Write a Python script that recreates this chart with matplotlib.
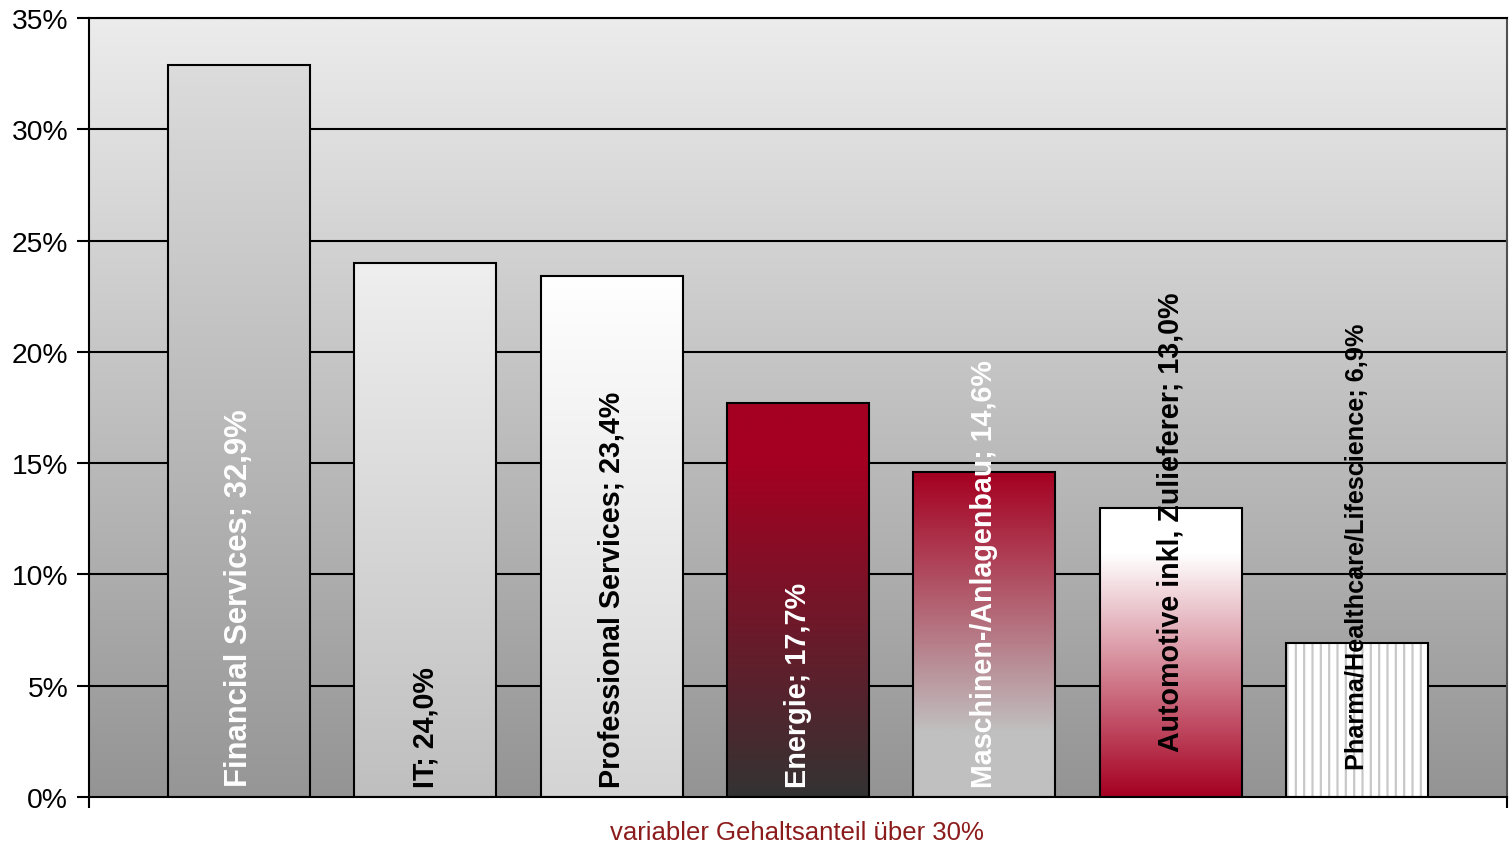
import matplotlib.pyplot as plt
import numpy as np
from matplotlib.colors import to_rgb
from matplotlib.ticker import FuncFormatter

plt.rcParams['font.family'] = ['Liberation Sans', 'DejaVu Sans']
plt.rcParams['hatch.linewidth'] = 1.6

# --- Data ---
category = 'variabler Gehaltsanteil über 30%'
branches = ['Financial Services', 'IT', 'Professional Services', 'Energie',
            'Maschinen-/Anlagenbau', 'Automotive inkl. Zulieferer',
            'Pharma/Healthcare/Lifescience']
shares = [32.9, 24.0, 23.4, 17.7, 14.6, 13.0, 6.9]
y_ticks = [0, 5, 10, 15, 20, 25, 30, 35]

# --- Styles: (top colour, bottom colour, ramp start, ramp end) ---
RED = '#a50021'
BAR_FILLS = [
    ('#dcdcdc', '#969696', 0.0, 1.0),
    ('#efefef', '#bfbfbf', 0.0, 1.0),
    ('#ffffff', '#d4d4d4', 0.0, 1.0),
    (RED, '#333333', 0.15, 1.0),
    (RED, '#c0c0c0', 0.0, 0.8),
    ('#ffffff', RED, 0.16, 1.0),
    None,  # striped
]
LABEL_COLORS = ['white', 'black', 'black', 'white', 'white', 'black', 'black']
LABEL_SIZES = [22.3, 20.6, 20.6, 20.8, 20.6, 20.6, 18.2]
LABEL_BASE = [0.5, 0.45, 0.45, 0.45, 0.45, 2.07, 1.26]  # % above the axis
BG_TOP, BG_BOTTOM = '#ececec', '#949494'


def ramp(top, bottom, a, b, n=256):
    t = np.linspace(0, 1, n)
    f = np.clip((t - a) / (b - a), 0, 1)[:, None]
    c0, c1 = np.array(to_rgb(top)), np.array(to_rgb(bottom))
    return (c0 * (1 - f) + c1 * f)[:, None, :]


fig = plt.figure(figsize=(15.12, 8.45), dpi=100)
ax = fig.add_axes([89 / 1512, 1 - 798 / 845, (1507 - 89) / 1512, (798 - 19) / 845])

# plot area background
ax.imshow(ramp(BG_TOP, BG_BOTTOM, 0, 1), extent=(0, 1, 0, 1), transform=ax.transAxes,
          aspect='auto', origin='upper', zorder=0, interpolation='bilinear')

for yv in y_ticks[1:]:
    ax.axhline(yv, color='black', lw=1.5, zorder=1)

x = np.arange(len(shares))
width = 0.762
bars = ax.bar(x, shares, width=width, facecolor='none', edgecolor='black',
              linewidth=1.5, zorder=3)

for i, (patch, style) in enumerate(zip(bars, BAR_FILLS)):
    x0, h = patch.get_x(), patch.get_height()
    if style is None:
        ax.bar(x[i], shares[i], width=width, facecolor='white', edgecolor='#c8c8c8',
               hatch='||', linewidth=0, zorder=2)
    else:
        ax.imshow(ramp(*style), extent=(x0, x0 + width, 0, h), aspect='auto',
                  origin='upper', zorder=2, clip_path=patch, interpolation='bilinear')

for i, (name, val) in enumerate(zip(branches, shares)):
    txt = f'{name}; {val:.1f}%'.replace('.', ',')
    ax.text(x[i], LABEL_BASE[i], txt, rotation=90, ha='center', va='bottom',
            color=LABEL_COLORS[i], fontsize=LABEL_SIZES[i],
            fontweight='bold', zorder=4)

ax.set_xlim(-0.805, len(shares) - 1 + 0.805)
ax.set_ylim(0, 35)
ax.set_yticks(y_ticks)
ax.yaxis.set_major_formatter(FuncFormatter(lambda v, _: f'{v:.0f}%'))
ax.tick_params(axis='y', length=9, width=1.5, labelsize=20.3, pad=6, colors='black')
ax.set_xticks(ax.get_xlim())
ax.set_xticklabels(['', ''])
ax.tick_params(axis='x', length=8, width=1.5)

# category name under the axis
fig.text(797 / 1512, 1 - 833 / 845, category, fontsize=18.5, color='#8c1c1c',
         ha='center', va='center')

for side in ['left', 'bottom', 'top']:
    ax.spines[side].set_linewidth(1.5)
    ax.spines[side].set_zorder(5)
ax.spines['right'].set_color('#505050')
ax.spines['right'].set_linewidth(1.5)

fig.savefig('out.png', dpi=100)
